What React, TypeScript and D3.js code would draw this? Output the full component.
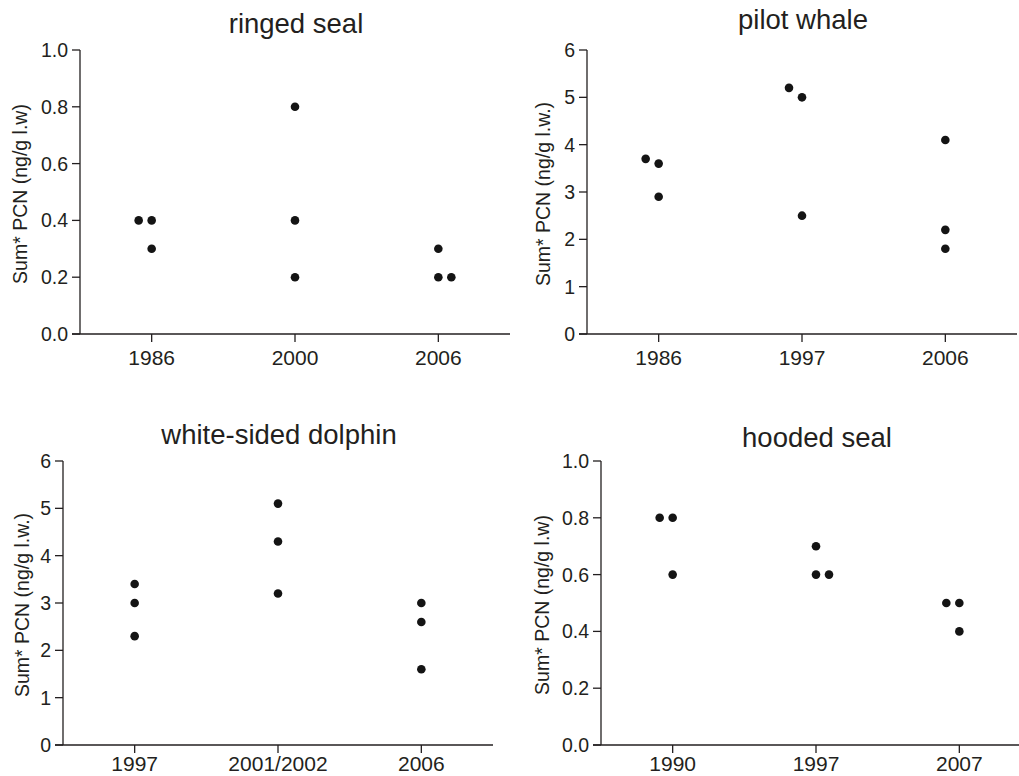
import * as d3 from 'd3';

// ringed seal
const ringedYears = ['1986', '2000', '2006'];
const ringedValues = [[0.4, 0.4, 0.3], [0.8, 0.4, 0.2], [0.3, 0.2, 0.2]];
const ringedSlots = [[-1, 0, 0], [0, 0, 0], [0, 0, 1]];

// pilot whale
const pilotYears = ['1986', '1997', '2006'];
const pilotValues = [[3.7, 3.6, 2.9], [5.2, 5.0, 2.5], [4.1, 2.2, 1.8]];
const pilotSlots = [[-1, 0, 0], [-1, 0, 0], [0, 0, 0]];

// white-sided dolphin
const dolphinYears = ['1997', '2001/2002', '2006'];
const dolphinValues = [[3.4, 3.0, 2.3], [5.1, 4.3, 3.2], [3.0, 2.6, 1.6]];
const dolphinSlots = [[0, 0, 0], [0, 0, 0], [0, 0, 0]];

// hooded seal
const hoodedYears = ['1990', '1997', '2007'];
const hoodedValues = [[0.8, 0.8, 0.6], [0.7, 0.6, 0.6], [0.5, 0.5, 0.4]];
const hoodedSlots = [[-1, 0, 0], [0, 0, 1], [-1, 0, 0]];

const fractionTicks = [0, 0.2, 0.4, 0.6, 0.8, 1.0];
const unitTicks = [0, 1, 2, 3, 4, 5, 6];

const INK = '#231f20';
const FONT = '"Liberation Sans", Arial, Helvetica, sans-serif';

type PanelProps = {
  title: string;
  yLabel: string;
  years: string[];
  values: number[][];
  slots: number[][];
  ticks: number[];
  fmt: (v: number) => string;
  left: number;
  top: number;
  titleY: number;
  labelX: number;
  yearGap: number;
};

function Panel({ title, yLabel, years, values, slots, ticks, fmt, left, top, titleY, labelX, yearGap }: PanelProps) {
  const plotW = 430;
  const plotH = 284;
  const x = d3.scaleBand().domain(years).range([left, left + plotW]);
  const y = d3.scaleLinear().domain([ticks[0], ticks[ticks.length - 1]]).range([top + plotH, top]);
  const half = x.bandwidth() / 2;
  const jitter = 13;
  const bottom = top + plotH;

  return (
    <g fontFamily={FONT} fill={INK}>
      <text x={left + 216} y={titleY} textAnchor="middle" fontSize="27.5">
        {title}
      </text>
      <text
        transform={`translate(${labelX},${top + plotH / 2 + 2}) rotate(-90)`}
        textAnchor="middle"
        dy="0.35em"
        fontSize="19.5"
      >
        {yLabel}
      </text>

      <line x1={left} x2={left} y1={top} y2={bottom} stroke={INK} strokeWidth="1.3" />
      <line x1={left - 8} x2={left + plotW} y1={bottom} y2={bottom} stroke={INK} strokeWidth="1.3" />

      {ticks.map((t) => (
        <g key={t}>
          <line x1={left - 8} x2={left} y1={y(t)} y2={y(t)} stroke={INK} strokeWidth="1.3" />
          <text x={left - 12} y={y(t)} dy="0.36em" textAnchor="end" fontSize="19.5">
            {fmt(t)}
          </text>
        </g>
      ))}

      {years.map((yr) => (
        <g key={yr}>
          <line x1={x(yr)! + half} x2={x(yr)! + half} y1={bottom} y2={bottom + 8} stroke={INK} strokeWidth="1.3" />
          <text x={x(yr)! + half} y={bottom + yearGap} textAnchor="middle" fontSize="21">
            {yr}
          </text>
        </g>
      ))}

      {years.map((yr, i) =>
        values[i].map((v, j) => (
          <circle
            key={`${yr}-${j}`}
            cx={x(yr)! + half + slots[i][j] * jitter}
            cy={y(v)}
            r="4.3"
            fill="#141414"
          />
        ))
      )}
    </g>
  );
}

export default function App() {
  const oneDec = d3.format('.1f');
  const whole = d3.format('d');
  return (
    <svg
      width={1019}
      height={776}
      viewBox="0 0 1019 776"
      style={{ position: 'absolute', left: 0, top: 0, background: '#fff' }}
    >
      <rect width={1019} height={776} fill="#fff" />
      <Panel
        title="ringed seal"
        yLabel="Sum* PCN (ng/g l.w)"
        years={ringedYears}
        values={ringedValues}
        slots={ringedSlots}
        ticks={fractionTicks}
        fmt={oneDec}
        left={80}
        top={50}
        titleY={33}
        labelX={20}
        yearGap={31}
      />
      <Panel
        title="pilot whale"
        yLabel="Sum* PCN (ng/g l.w.)"
        years={pilotYears}
        values={pilotValues}
        slots={pilotSlots}
        ticks={unitTicks}
        fmt={whole}
        left={587}
        top={50}
        titleY={29}
        labelX={543}
        yearGap={31}
      />
      <Panel
        title="white-sided dolphin"
        yLabel="Sum* PCN (ng/g l.w.)"
        years={dolphinYears}
        values={dolphinValues}
        slots={dolphinSlots}
        ticks={unitTicks}
        fmt={whole}
        left={63}
        top={461}
        titleY={444}
        labelX={22}
        yearGap={26}
      />
      <Panel
        title="hooded seal"
        yLabel="Sum* PCN (ng/g l.w)"
        years={hoodedYears}
        values={hoodedValues}
        slots={hoodedSlots}
        ticks={fractionTicks}
        fmt={oneDec}
        left={601}
        top={461}
        titleY={447}
        labelX={542}
        yearGap={26}
      />
    </svg>
  );
}
